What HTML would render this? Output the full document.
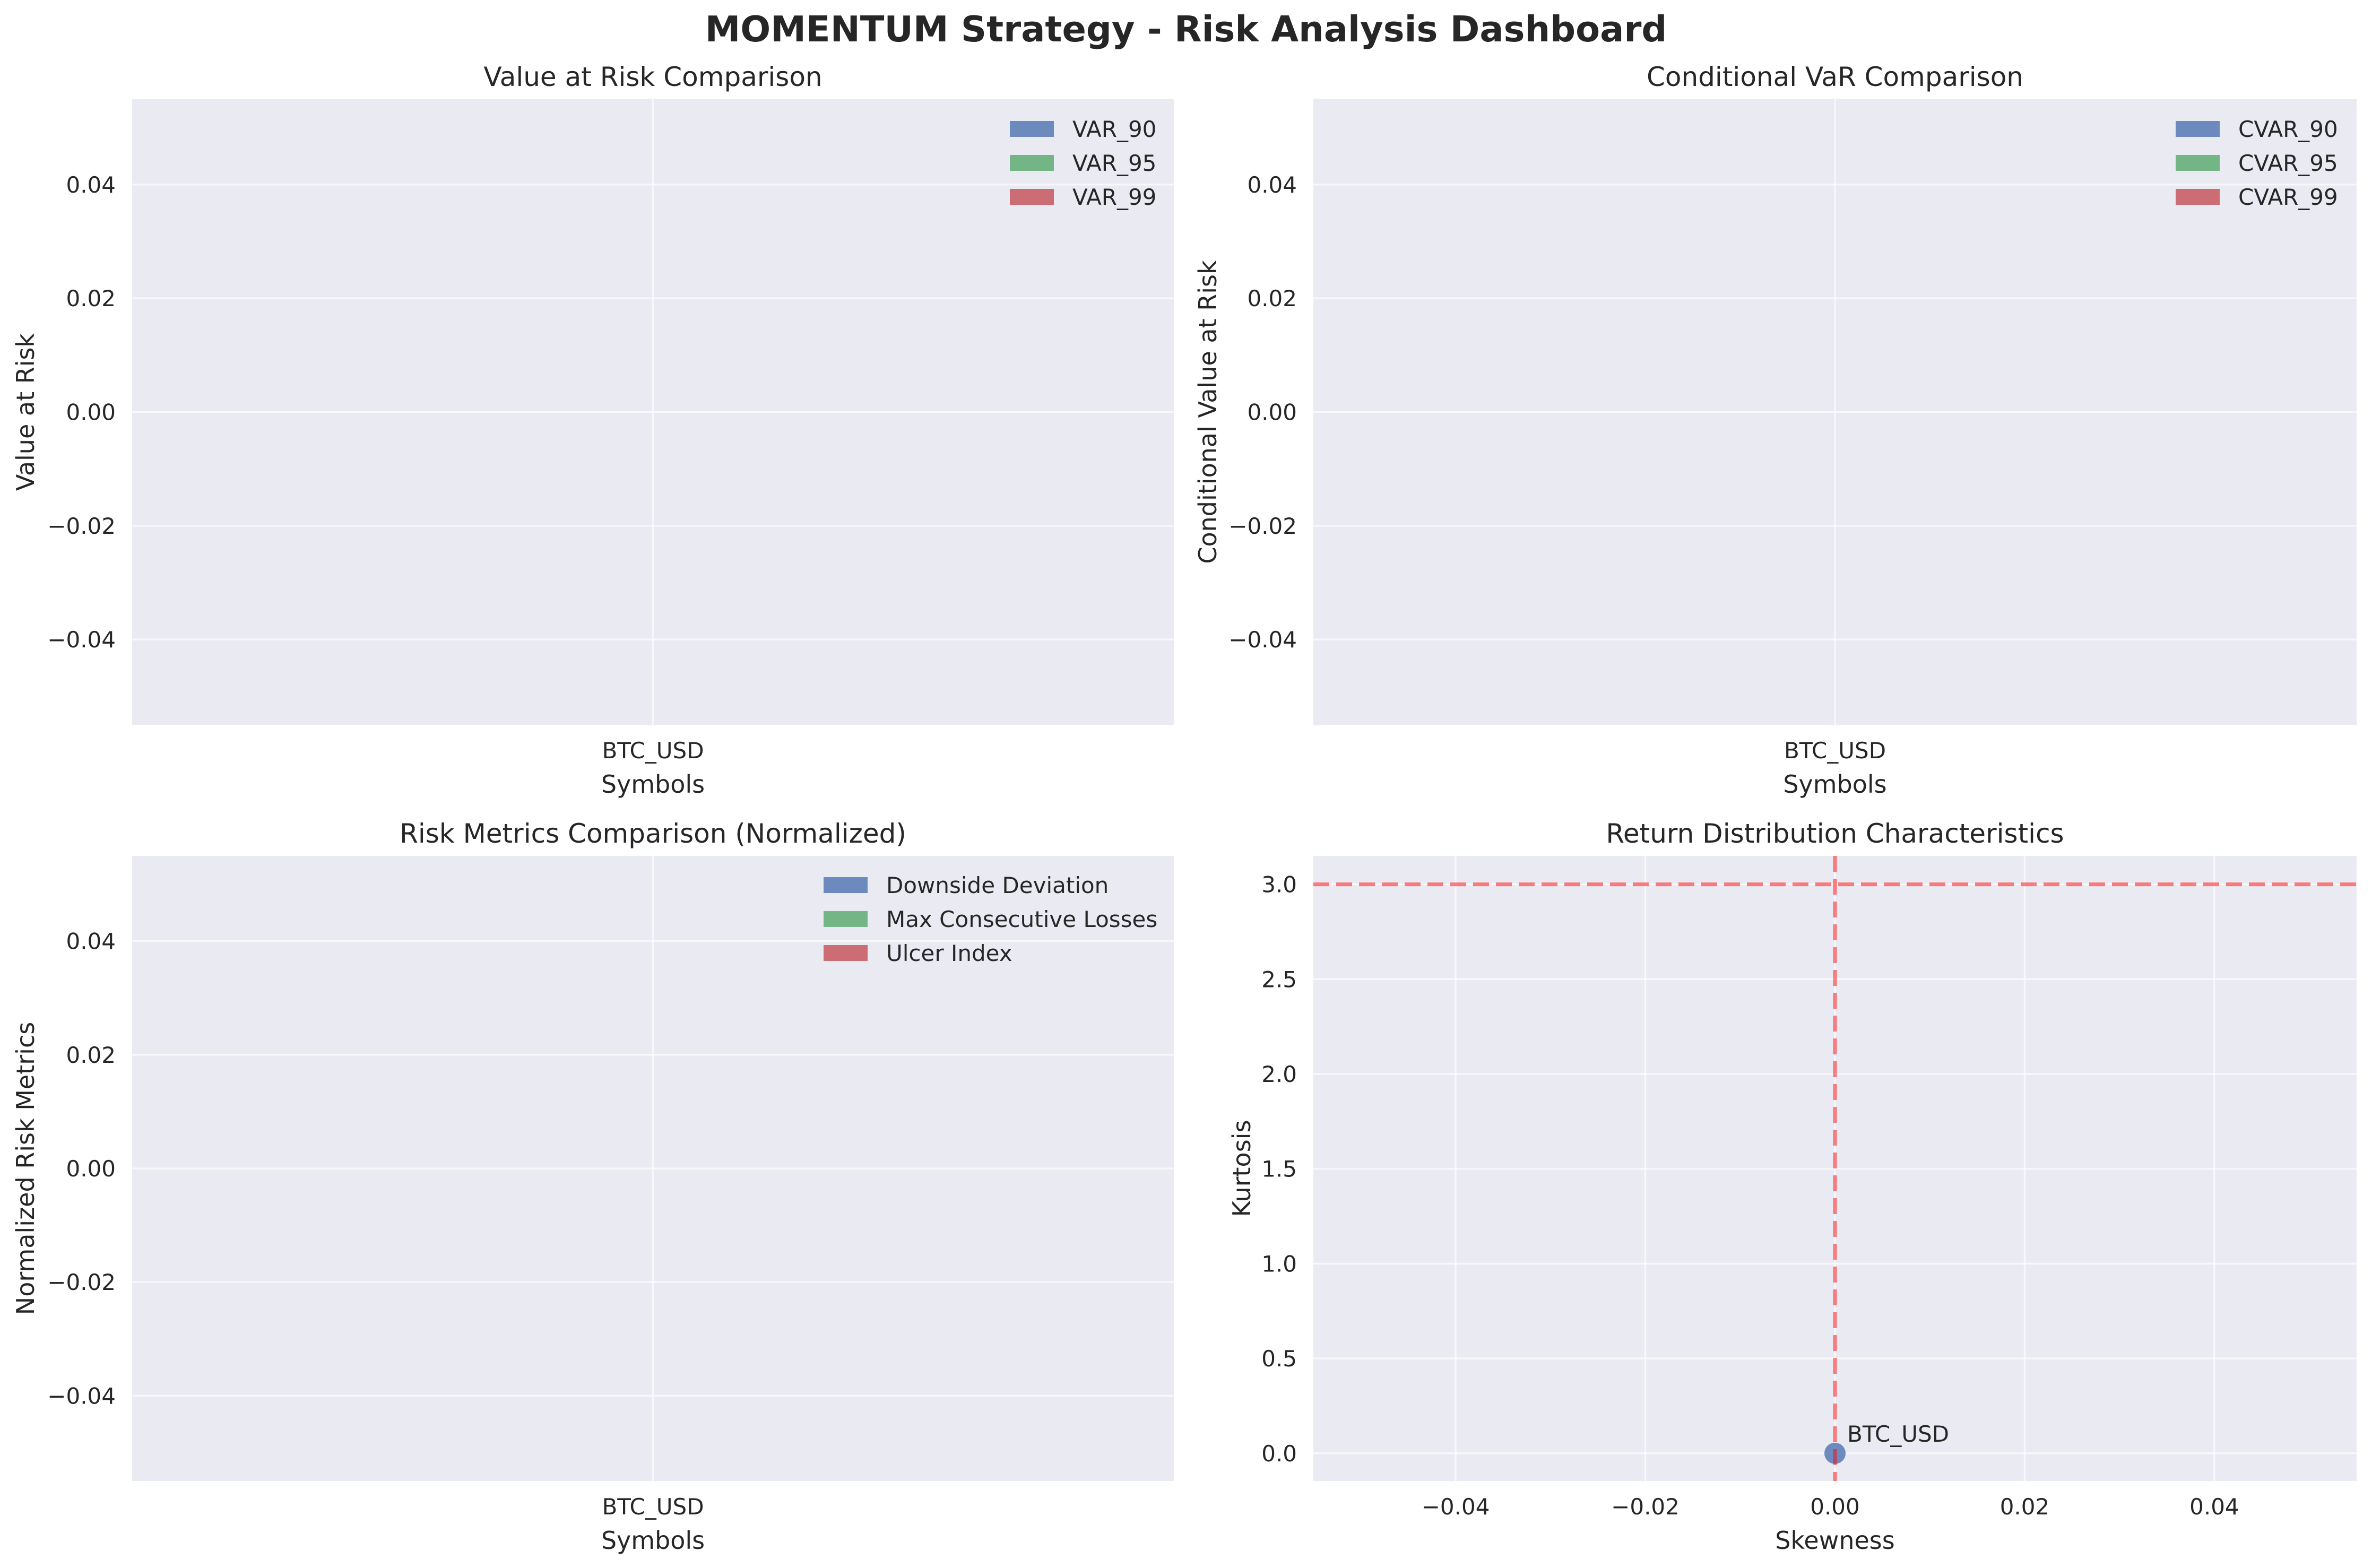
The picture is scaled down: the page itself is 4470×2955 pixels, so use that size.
<!DOCTYPE html>
<html><head><meta charset="utf-8"><style>
html,body{margin:0;padding:0;background:#fff;}
svg{display:block;font-family:"DejaVu Sans","Liberation Sans",sans-serif;}
</style></head><body>
<svg id="fig" width="4470" height="2955" viewBox="0 0 4470 2955" xmlns="http://www.w3.org/2000/svg">
<text x="2235" y="78" text-anchor="middle" font-size="67" font-weight="bold" fill="#262626">MOMENTUM Strategy - Risk Analysis Dashboard</text>
</svg>
<script>
const symbols = ["BTC_USD"];
const varSeries = ["VAR_90","VAR_95","VAR_99"];
const varValues = [[0],[0],[0]];
const cvarSeries = ["CVAR_90","CVAR_95","CVAR_99"];
const cvarValues = [[0],[0],[0]];
const riskSeries = ["Downside Deviation","Max Consecutive Losses","Ulcer Index"];
const riskValues = [[0],[0],[0]];
const barYTicks = [-0.04,-0.02,0.00,0.02,0.04];
const barYTickLabels = ["\u22120.04","\u22120.02","0.00","0.02","0.04"];
const skewness = [0];
const kurtosis = [0];
const skewTicks = [-0.04,-0.02,0.00,0.02,0.04];
const skewTickLabels = ["\u22120.04","\u22120.02","0.00","0.02","0.04"];
const kurtTicks = [0,0.5,1,1.5,2,2.5,3];
const kurtTickLabels = ["0.0","0.5","1.0","1.5","2.0","2.5","3.0"];
const refKurtosis = 3;
const refSkew = 0;

const NS = "http://www.w3.org/2000/svg";
const svg = document.getElementById('fig');
const colors = ["#4c72b0","#55a868","#c44e52"];
function el(tag, attrs, parent, txt){
  const e = document.createElementNS(NS, tag);
  for (const k in attrs) e.setAttribute(k, attrs[k]);
  if (txt !== undefined) e.textContent = txt;
  (parent || svg).appendChild(e);
  return e;
}
function linScale(d0,d1,r0,r1){ return v => r0 + (v-d0)/(d1-d0)*(r1-r0); }

function barPanel(p){
  const g = el('g', {});
  
  
  const bg = el('rect', {x:p.x0, y:p.y0, width:p.x1-p.x0, height:p.y1-p.y0, fill:'#eaeaf2'}, g);
  
  
  const y = linScale(-0.055, 0.055, p.y1, p.y0);
  const n = symbols.length;
  const x = i => p.x0 + (p.x1-p.x0)*(i+0.5)/n;
  barYTicks.forEach((t,i)=>{
    const gl = el('line', {x1:p.x0, x2:p.x1, y1:y(t), y2:y(t), stroke:'#fff', 'stroke-width':3.3, opacity:0.7}, g);
    
    
    const tl = el('text', {x:p.x0-31, y:y(t)+15, 'text-anchor':'end', 'font-size':42, fill:'#262626'}, g, barYTickLabels[i]);
    
    
  });
  symbols.forEach((s,i)=>{
    const gl = el('line', {x1:x(i), x2:x(i), y1:p.y0, y2:p.y1, stroke:'#fff', 'stroke-width':3.3, opacity:0.7}, g);
    
    
    const tl = el('text', {x:x(i), y:p.y1+63, 'text-anchor':'middle', 'font-size':42, fill:'#262626'}, g, s);
    
    
  });
  const bw = (p.x1-p.x0)/n*0.8/3;
  p.values.forEach((vals,si)=>{
    vals.forEach((v,i)=>{
      const bx = x(i) - 1.5*bw + si*bw;
      const b = el('rect', {x:bx, y:Math.min(y(v),y(0)), width:bw, height:Math.abs(y(v)-y(0)), fill:colors[si], opacity:0.8}, g);
      
      
    });
  });
  p.series.forEach((s,si)=>{
    const ly = p.legY + si*64;
    const r = el('rect', {x:p.legX, y:ly, width:83, height:30, fill:colors[si], opacity:0.8}, g);
    
    
    const t = el('text', {x:p.legX+118, y:ly+30, 'font-size':42, fill:'#262626'}, g, s);
    
    
  });
  const ti = el('text', {x:(p.x0+p.x1)/2, y:p.y0-25, 'text-anchor':'middle', 'font-size':50, fill:'#262626'}, g, p.title);
  
  
  const xl = el('text', {x:(p.x0+p.x1)/2, y:p.y1+128, 'text-anchor':'middle', 'font-size':46, fill:'#262626'}, g, 'Symbols');
  
  
  const cy = (p.y0+p.y1)/2;
  const yl = el('text', {x:p.ylx, y:cy, 'text-anchor':'middle', 'font-size':46, fill:'#262626', transform:'rotate(-90 '+p.ylx+' '+cy+')'}, g, p.ylabel);
  
  
}

barPanel({name:'var-panel', x0:249, x1:2212, y0:187, y1:1366, values:varValues, series:varSeries, legX:1903, legY:228, title:'Value at Risk Comparison', ylabel:'Value at Risk', ylx:64});
barPanel({name:'cvar-panel', x0:2475, x1:4441, y0:187, y1:1366, values:cvarValues, series:cvarSeries, legX:4100, legY:228, title:'Conditional VaR Comparison', ylabel:'Conditional Value at Risk', ylx:2292});
barPanel({name:'risk-metrics-panel', x0:249, x1:2212, y0:1613, y1:2791, values:riskValues, series:riskSeries, legX:1552, legY:1653, title:'Risk Metrics Comparison (Normalized)', ylabel:'Normalized Risk Metrics', ylx:64});

// Scatter panel
(function(){
  const p = {x0:2475, x1:4441, y0:1613, y1:2791};
  const g = el('g', {});
  
  
  const bg = el('rect', {x:p.x0, y:p.y0, width:p.x1-p.x0, height:p.y1-p.y0, fill:'#eaeaf2'}, g);
  
  
  const x = linScale(-0.055, 0.055, p.x0, p.x1);
  const y = linScale(-0.146, 3.15, p.y1, p.y0);
  kurtTicks.forEach((t,i)=>{
    const gl = el('line', {x1:p.x0, x2:p.x1, y1:y(t), y2:y(t), stroke:'#fff', 'stroke-width':3.3, opacity:0.7}, g);
    
    
    const tl = el('text', {x:p.x0-31, y:y(t)+15, 'text-anchor':'end', 'font-size':42, fill:'#262626'}, g, kurtTickLabels[i]);
    
    
  });
  skewTicks.forEach((t,i)=>{
    const gl = el('line', {x1:x(t), x2:x(t), y1:p.y0, y2:p.y1, stroke:'#fff', 'stroke-width':3.3, opacity:0.7}, g);
    
    
    const tl = el('text', {x:x(t), y:p.y1+63, 'text-anchor':'middle', 'font-size':42, fill:'#262626'}, g, skewTickLabels[i]);
    
    
  });
  skewness.forEach((s,i)=>{
    const c = el('ellipse', {cx:x(s), cy:y(kurtosis[i]), rx:20, ry:20, fill:'#4c72b0', opacity:0.8}, g);
    
    
    const t = el('text', {x:x(s)+23, y:y(kurtosis[i])-22, 'font-size':42, fill:'#262626'}, g, symbols[i]);
    
    
  });
  const h = el('line', {x1:p.x0, x2:p.x1, y1:y(refKurtosis), y2:y(refKurtosis), stroke:'#ff0000', 'stroke-opacity':0.5, 'stroke-width':7, 'stroke-dasharray':'30 13'}, g);
  
  
  const v = el('line', {x1:x(refSkew), x2:x(refSkew), y1:p.y0, y2:p.y1, stroke:'#ff0000', 'stroke-opacity':0.5, 'stroke-width':7, 'stroke-dasharray':'30 13'}, g);
  
  
  const ti = el('text', {x:(p.x0+p.x1)/2, y:p.y0-25, 'text-anchor':'middle', 'font-size':50, fill:'#262626'}, g, 'Return Distribution Characteristics');
  
  
  const xl = el('text', {x:(p.x0+p.x1)/2, y:p.y1+128, 'text-anchor':'middle', 'font-size':46, fill:'#262626'}, g, 'Skewness');
  
  
  const cy = (p.y0+p.y1)/2;
  const yl = el('text', {x:2356, y:cy, 'text-anchor':'middle', 'font-size':46, fill:'#262626', transform:'rotate(-90 2356 '+cy+')'}, g, 'Kurtosis');
  
  
})();
</script>
</body></html>
